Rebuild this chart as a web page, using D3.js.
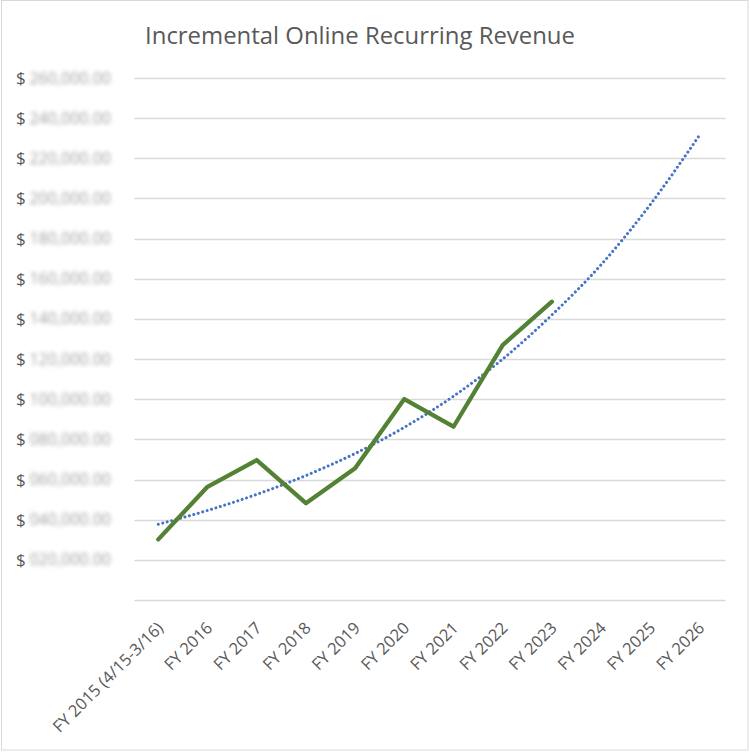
<!DOCTYPE html>
<html><head><meta charset="utf-8">
<script src="https://cdn.jsdelivr.net/npm/d3@7"></script>
<style>body{margin:0;background:#fff} .blurred{filter:blur(2.3px)}</style>
</head><body>
<script>
const categories = ["FY 2015 (4/15-3/16)","FY 2016","FY 2017","FY 2018","FY 2019","FY 2020","FY 2021","FY 2022","FY 2023","FY 2024","FY 2025","FY 2026"];
const revenue = [30200, 56400, 69700, 48200, 65600, 100100, 86300, 127000, 148600];
const trend = [37700, 44600, 52600, 62000, 73000, 86000, 101500, 120000, 142000, 167000, 197000, 231500];
const yTicks = [0, 20000, 40000, 60000, 80000, 100000, 120000, 140000, 160000, 180000, 200000, 220000, 240000, 260000];
const title = "Incremental Online Recurring Revenue";

const W = 750, H = 752;
const svg = d3.select("body").append("svg").attr("width", W).attr("height", H);

svg.append("rect").attr("x",1.5).attr("y",0.5).attr("width",746.5).attr("height",749.5)
  .attr("fill","#fff").attr("stroke","#d9d9d9").attr("stroke-width",1);

const x = d3.scalePoint().domain(categories).range([158.3, 699.5]);
const y = d3.scaleLinear().domain([0, 260000]).range([600, 78]);
const plotL = 134.5, plotR = 725.5;

const font = "'Open Sans', 'Noto Sans', sans-serif";
const grey = "#595959";

// gridlines
svg.append("g").selectAll("line").data(yTicks).join("line")
  .attr("x1", plotL).attr("x2", plotR)
  .attr("y1", d => Math.round(y(d)) + 0.5).attr("y2", d => Math.round(y(d)) + 0.5)
  .attr("stroke", "#d9d9d9").attr("stroke-width", 1.3);

// y labels
const yl = svg.append("g");
yl.selectAll("text.d").data(yTicks.filter(d => d > 0)).join("text")
  .attr("class","d")
  .attr("x", 16).attr("y", d => y(d) + 6)
  .attr("font-family", font).attr("font-size", 17).attr("fill", grey).text("$");
const yn = svg.append("g").attr("class","blurred");
yn.selectAll("text").data(yTicks.filter(d => d > 0)).join("text")
  .attr("x", 111).attr("y", d => y(d) + 5.5).attr("text-anchor","end")
  .attr("font-family", font).attr("font-size", 16).attr("fill", "#a0a0a0")
  .text(d => d3.format(",.2f")(d).padStart(10, "0"));

// x labels
svg.append("g").selectAll("text").data(categories).join("text")
  .attr("text-anchor","end")
  .attr("transform", d => `translate(${x(d) + 6},${629}) rotate(-45)`)
  .attr("font-family", font).attr("font-size", 16.5).attr("fill", grey)
  .text(d => d);

// trend
svg.append("path").datum(trend)
  .attr("d", d3.line().x((d,i) => x(categories[i])).y(d => y(d)).curve(d3.curveMonotoneX))
  .attr("fill","none").attr("stroke","#4472C4").attr("stroke-width",3)
  .attr("stroke-linecap","round").attr("stroke-dasharray","0.01 4.6");

// revenue line
svg.append("path").datum(revenue)
  .attr("d", d3.line().x((d,i) => x(categories[i])).y(d => y(d)))
  .attr("fill","none").attr("stroke","#548235").attr("stroke-width",4.3)
  .attr("stroke-linejoin","round").attr("stroke-linecap","round");

// title
const t = svg.append("text").attr("x", 360).attr("y", 44).attr("text-anchor","middle")
  .attr("font-family", font).attr("font-size", 24).attr("fill", grey).text(title);
const tw = t.node().getComputedTextLength();
t.attr("font-size", 24 * 430 / tw);
</script>
</body></html>
